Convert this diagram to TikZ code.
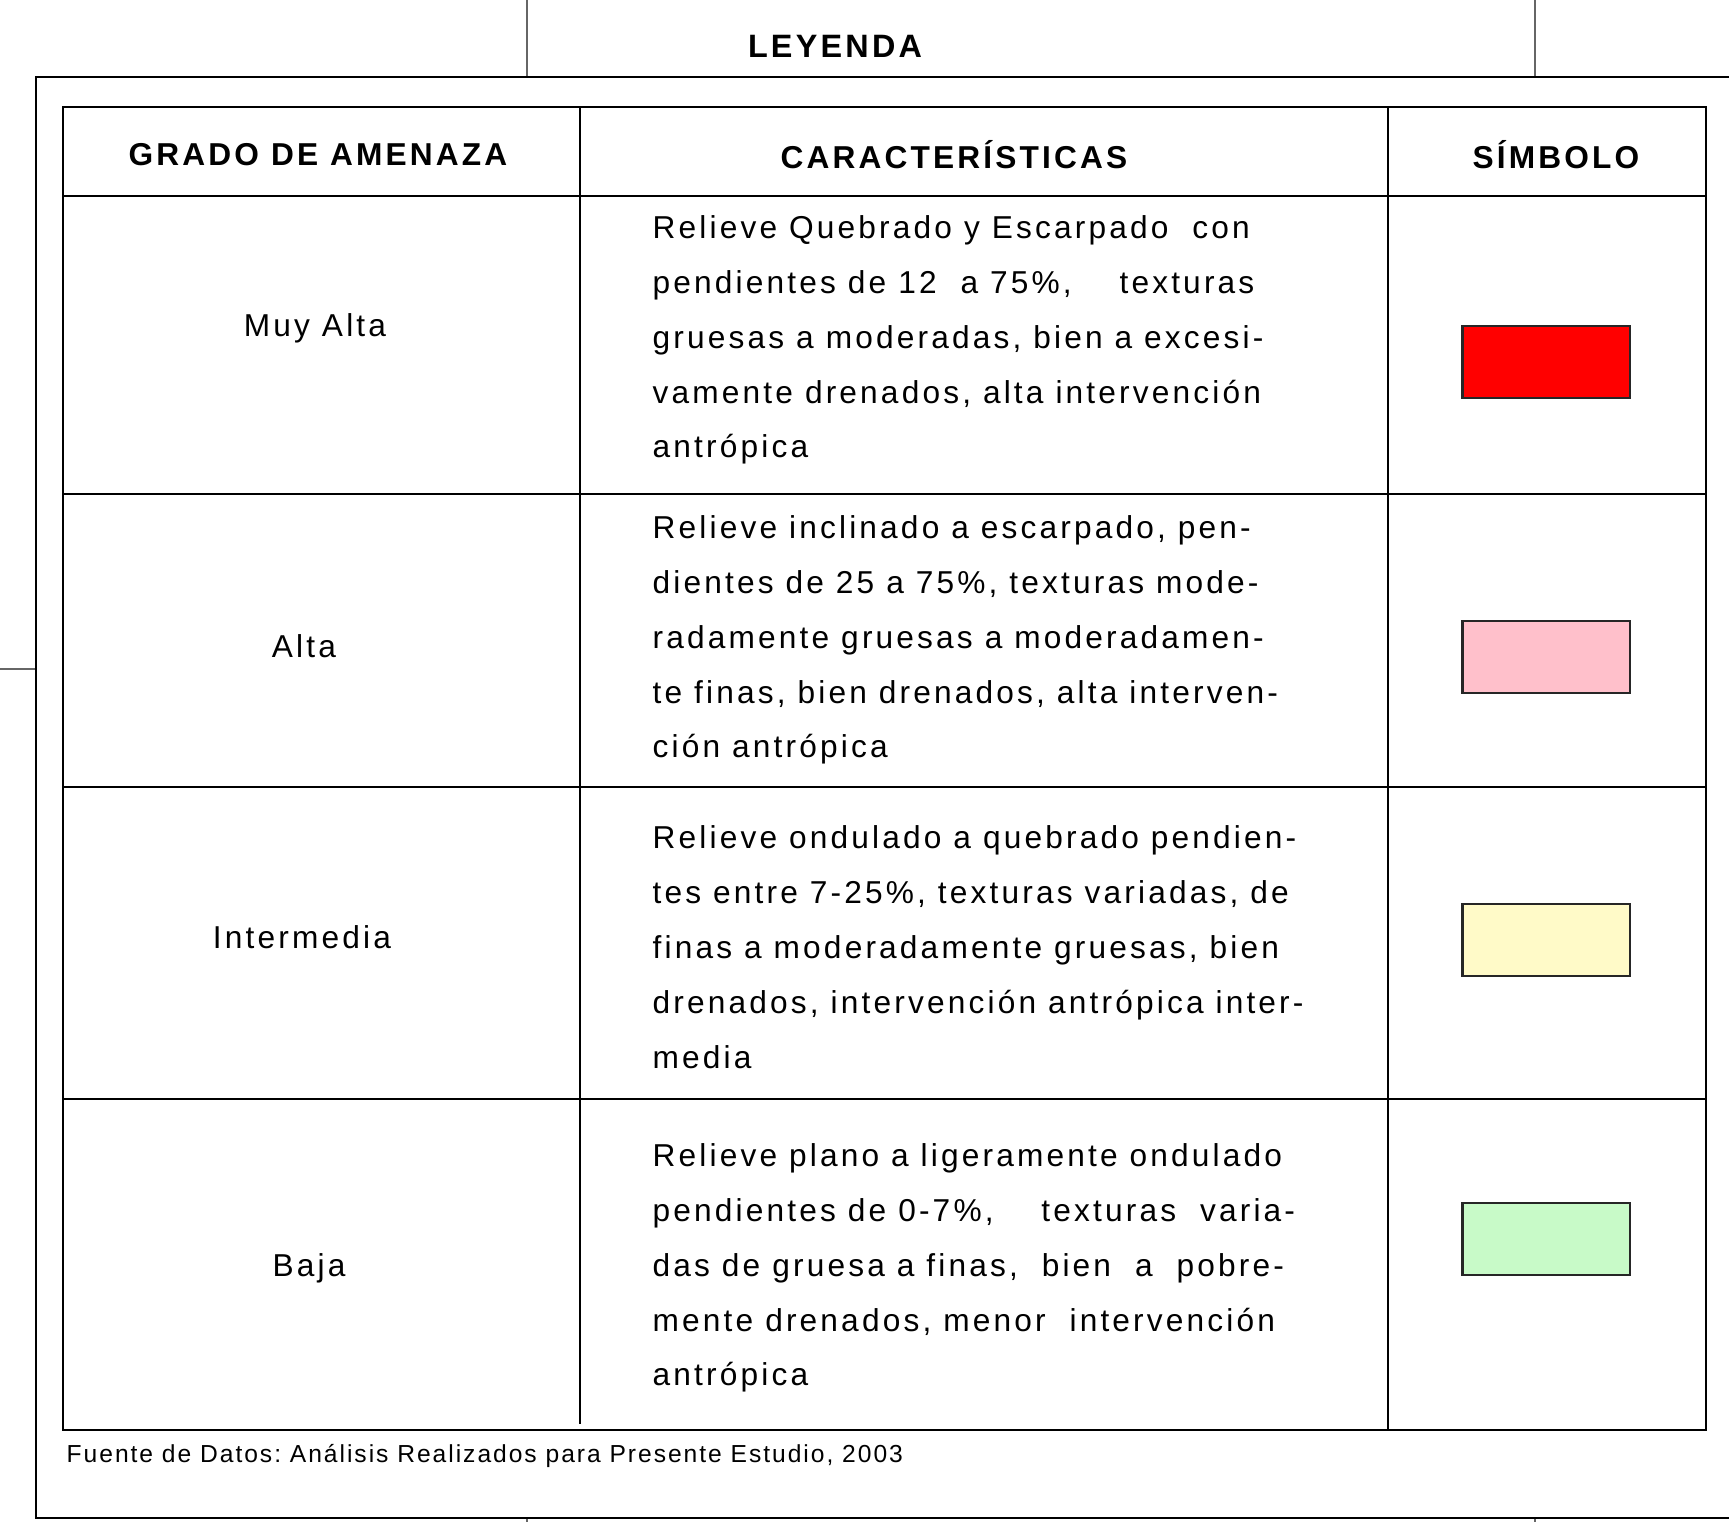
\documentclass[tikz,border=0pt]{standalone}
\usepackage{fontspec}
\setmainfont{Liberation Sans}
\newfontfamily\legfont[LetterSpace=10]{Liberation Sans}
\newfontfamily\headfont[LetterSpace=10]{Liberation Sans}
\newfontfamily\srcfont[LetterSpace=8]{Liberation Sans}
\usepackage{tikz}
\frenchspacing

\definecolor{amzroja}{RGB}{255,0,0}
\definecolor{amzrosa}{RGB}{255,192,203}
\definecolor{amzamar}{RGB}{255,250,200}
\definecolor{amzverde}{RGB}{200,250,200}

\begin{document}
\begin{tikzpicture}[x=0.01cm,y=-0.01cm,
  grid/.style={line width=0.7pt},
  thin/.style={line width=0.35pt,gray!80!black},
  head/.style={font=\headfont\bfseries\fontsize{9}{11}\selectfont},
  grado/.style={font=\legfont\fontsize{9}{11}\selectfont},
  desc/.style={anchor=west,align=left,inner sep=0pt,font=\legfont\fontsize{9}{15.6}\selectfont},
  swatch/.style={draw=black!85,line width=0.6pt,minimum width=1.67cm,minimum height=0.72cm,inner sep=0pt}]
\useasboundingbox (0,0) rectangle (1729,1522);

% sheet lines round the legend
\draw[thin] (527,0) -- (527,77);
\draw[thin] (1535,0) -- (1535,77);
\draw[thin] (527,1518) -- (527,1522);
\draw[thin] (1535,1518) -- (1535,1522);
\draw[thin] (0,669) -- (36,669);
\draw[grid] (1729,77) -- (36,77) -- (36,1518) -- (1729,1518);

\node[font=\headfont\bfseries\fontsize{9.2}{11}\selectfont] (leyenda) at (835,46) {LEYENDA};

% table
\draw[grid] (63,107) rectangle (1706,1430);
\draw[grid] (580,107) -- (580,1424);
\draw[grid] (1388,107) -- (1388,1430);
\draw[grid] (63,196) -- (1706,196);
\draw[grid] (63,494) -- (1706,494);
\draw[grid] (63,787) -- (1706,787);
\draw[grid] (63,1099) -- (1706,1099);

\node[head] (hgrado) at (318,155) {GRADO DE AMENAZA};
\node[head] (hcarac) at (954,155) {CARACTERÍSTICAS};
\node[head] (hsimb) at (1556,155) {SÍMBOLO};

\node[grado] (muyalta) at (315,328) {Muy Alta};
\node[grado] (alta) at (304,646) {Alta};
\node[grado] (interm) at (302,937) {Intermedia};
\node[grado] (baja) at (309,1268) {Baja};

\node[desc] (dmuyalta) at (652,340) {Relieve Quebrado y Escarpado\ \ con\\
  pendientes de 12\ \ a 75\%,\ \ \ \ texturas\\
  gruesas a moderadas, bien a excesi-\\
  vamente drenados, alta intervención\\
  antrópica};
\node[desc] (dalta) at (652,640) {Relieve inclinado a escarpado, pen-\\
  dientes de 25 a 75\%, texturas mode-\\
  radamente gruesas a moderadamen-\\
  te finas, bien drenados, alta interven-\\
  ción antrópica};
\node[desc] (dinterm) at (652,947) {Relieve ondulado a quebrado pendien-\\
  tes entre 7-25\%, texturas variadas, de\\
  finas a moderadamente gruesas, bien\\
  drenados, intervención antrópica inter-\\
  media};
\node[desc] (dbaja) at (652,1268) {Relieve plano a ligeramente ondulado\\
  pendientes de 0-7\%,\ \ \ \ texturas\ \ varia-\\
  das de gruesa a finas,\ \ bien\ \ a\ \ pobre-\\
  mente drenados, menor\ \ intervención\\
  antrópica};

\node[swatch,fill=amzroja] (smuyalta) at (1546,362) {};
\node[swatch,fill=amzrosa] (salta) at (1546,657) {};
\node[swatch,fill=amzamar] (sinterm) at (1546,940) {};
\node[swatch,fill=amzverde] (sbaja) at (1546,1239) {};

\node[anchor=west,inner sep=0pt,font=\srcfont\fontsize{7}{9}\selectfont] (fuente) at (66,1456)
  {Fuente de Datos: Análisis Realizados para Presente Estudio, 2003};
\end{tikzpicture}
\end{document}
